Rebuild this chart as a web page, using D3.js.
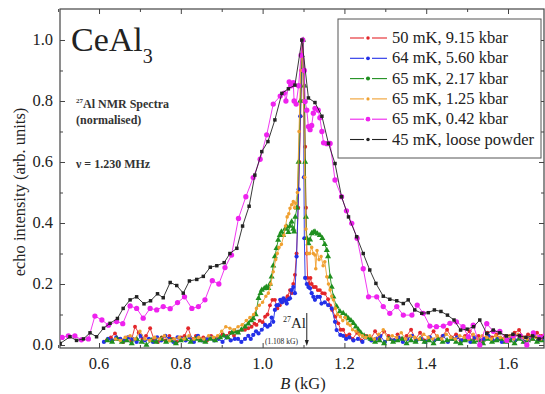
<!DOCTYPE html>
<html><head><meta charset="utf-8">
<script src="https://cdn.jsdelivr.net/npm/d3@7"></script>
<style>body{margin:0;background:#fff}svg{display:block}</style>
</head><body><svg id="c" width="545" height="394"></svg>
<script>
const xTicks = [0.6, 0.8, 1.0, 1.2, 1.4, 1.6];
const xMinor = [0.5, 0.7, 0.9, 1.1, 1.3, 1.5, 1.7];
const yTicks = [0.0, 0.2, 0.4, 0.6, 0.8, 1.0];
const yMinor = [0.1, 0.3, 0.5, 0.7, 0.9];
const legendLabels = ["50 mK, 9.15 kbar","64 mK, 5.60 kbar","65 mK, 2.17 kbar","65 mK, 1.25 kbar","65 mK, 0.42 kbar","45 mK, loose powder"];

const red50 = [[0.619,0.016],[0.629,0.025],[0.639,0.038],[0.649,0.02],[0.659,0.01],[0.669,0.025],[0.679,0.015],[0.688,0.06],[0.697,0.04],[0.706,0.02],[0.715,0.03],[0.725,0.055],[0.734,0.02],[0.744,0.01],[0.753,0.025],[0.762,0.015],[0.772,0.03],[0.781,0.02],[0.79,0.01],[0.8,0.025],[0.809,0.03],[0.818,0.055],[0.827,0.02],[0.837,0.03],[0.846,0.02],[0.855,0.025],[0.864,0.015],[0.874,0.03],[0.883,0.02],[0.892,0.025],[0.902,0.035],[0.911,0.03],[0.92,0.04],[0.93,0.03],[0.94,0.044],[0.949,0.05],[0.957,0.05],[0.965,0.055],[0.973,0.06],[0.98,0.07],[0.985,0.066],[0.993,0.08],[1.0,0.075],[1.006,0.093],[1.012,0.1],[1.018,0.13],[1.024,0.148],[1.03,0.148],[1.036,0.12],[1.042,0.13],[1.048,0.14],[1.055,0.15],[1.061,0.16],[1.067,0.18],[1.071,0.17],[1.075,0.2],[1.079,0.23],[1.083,0.3],[1.087,0.45],[1.09,0.6],[1.093,0.75],[1.096,0.9],[1.099,1.0],[1.102,0.85],[1.104,0.65],[1.106,0.45],[1.108,0.3],[1.11,0.22],[1.113,0.2],[1.117,0.22],[1.12,0.2],[1.125,0.19],[1.13,0.19],[1.135,0.18],[1.14,0.18],[1.146,0.17],[1.152,0.169],[1.16,0.15],[1.165,0.13],[1.17,0.115],[1.178,0.093],[1.185,0.071],[1.191,0.05],[1.197,0.05],[1.204,0.03],[1.212,0.035],[1.22,0.02],[1.231,0.04],[1.242,0.015],[1.253,0.03],[1.264,0.02],[1.275,0.045],[1.286,0.02],[1.297,0.044],[1.308,0.03],[1.319,0.015],[1.33,0.035],[1.341,0.02],[1.352,0.03],[1.363,0.05],[1.374,0.02],[1.385,0.04],[1.396,0.015],[1.407,0.025],[1.418,0.045],[1.429,0.02],[1.44,0.03],[1.451,0.05],[1.462,0.025],[1.473,0.035],[1.484,0.015],[1.495,0.03],[1.506,0.045],[1.517,0.02],[1.528,0.03],[1.539,0.015],[1.55,0.04],[1.561,0.025],[1.572,0.035],[1.583,0.02],[1.594,0.03],[1.605,0.015],[1.616,0.04],[1.627,0.049],[1.638,0.025],[1.649,0.035],[1.66,0.02],[1.671,0.04],[1.682,0.03]];

const blue64 = [[0.612,0.01],[0.622,0.02],[0.632,0.015],[0.642,0.025],[0.652,0.02],[0.662,0.015],[0.672,0.025],[0.682,0.02],[0.692,0.01],[0.702,0.03],[0.712,0.015],[0.722,0.02],[0.732,0.01],[0.742,0.025],[0.752,0.015],[0.762,0.03],[0.772,0.02],[0.782,0.01],[0.792,0.025],[0.802,0.02],[0.812,0.015],[0.822,0.025],[0.832,0.01],[0.842,0.03],[0.852,0.015],[0.862,0.02],[0.872,0.025],[0.882,0.015],[0.892,0.02],[0.902,0.01],[0.912,0.025],[0.922,0.015],[0.932,0.02],[0.94,0.02],[0.948,0.01],[0.957,0.02],[0.965,0.03],[0.971,0.02],[0.977,0.033],[0.984,0.045],[0.99,0.038],[0.998,0.05],[1.006,0.066],[1.012,0.06],[1.018,0.066],[1.022,0.09],[1.026,0.076],[1.03,0.115],[1.034,0.13],[1.038,0.131],[1.043,0.148],[1.047,0.14],[1.051,0.153],[1.055,0.145],[1.059,0.136],[1.063,0.15],[1.067,0.153],[1.071,0.18],[1.075,0.19],[1.079,0.17],[1.083,0.29],[1.088,0.51],[1.092,0.75],[1.096,0.95],[1.098,1.0],[1.1,0.8],[1.101,0.55],[1.102,0.35],[1.104,0.22],[1.108,0.2],[1.112,0.19],[1.116,0.186],[1.12,0.17],[1.124,0.158],[1.128,0.148],[1.134,0.158],[1.14,0.158],[1.144,0.136],[1.152,0.14],[1.16,0.131],[1.169,0.12],[1.177,0.076],[1.181,0.049],[1.19,0.033],[1.197,0.03],[1.204,0.02],[1.212,0.025],[1.222,0.015],[1.233,0.02],[1.244,0.01],[1.255,0.025],[1.266,0.015],[1.277,0.02],[1.288,0.03],[1.299,0.01],[1.31,0.02],[1.321,0.015],[1.332,0.025],[1.343,0.01],[1.354,0.02],[1.365,0.03],[1.376,0.015],[1.387,0.02],[1.398,0.01],[1.409,0.025],[1.42,0.015],[1.431,0.02],[1.442,0.03],[1.453,0.01],[1.464,0.02],[1.475,0.025],[1.486,0.015],[1.497,0.02],[1.508,0.01],[1.519,0.025],[1.53,0.015],[1.541,0.02],[1.552,0.03],[1.563,0.015],[1.574,0.02],[1.585,0.01],[1.596,0.025],[1.607,0.02],[1.618,0.015],[1.629,0.025],[1.64,0.01],[1.651,0.02],[1.662,0.03],[1.673,0.015],[1.684,0.02]];

const green65a = [[0.62,0.015],[0.632,0.01],[0.644,0.02],[0.656,0.01],[0.668,0.015],[0.68,0.005],[0.692,0.02],[0.704,0.01],[0.716,0.0],[0.728,0.015],[0.74,0.01],[0.752,0.02],[0.764,0.01],[0.776,0.015],[0.788,0.005],[0.8,0.015],[0.812,0.02],[0.824,0.01],[0.836,0.02],[0.848,0.015],[0.86,0.01],[0.872,0.02],[0.884,0.015],[0.896,0.025],[0.905,0.03],[0.915,0.025],[0.925,0.04],[0.933,0.044],[0.94,0.04],[0.948,0.05],[0.957,0.06],[0.965,0.07],[0.972,0.08],[0.977,0.087],[0.983,0.1],[0.99,0.153],[0.995,0.17],[0.998,0.18],[1.004,0.185],[1.009,0.19],[1.014,0.186],[1.018,0.2],[1.022,0.224],[1.026,0.26],[1.03,0.29],[1.034,0.317],[1.038,0.344],[1.042,0.36],[1.046,0.371],[1.05,0.36],[1.055,0.38],[1.059,0.388],[1.063,0.37],[1.067,0.39],[1.071,0.404],[1.075,0.38],[1.077,0.371],[1.08,0.42],[1.084,0.45],[1.088,0.6],[1.092,0.8],[1.096,0.95],[1.099,1.0],[1.102,0.85],[1.104,0.6],[1.106,0.42],[1.108,0.35],[1.112,0.333],[1.116,0.345],[1.12,0.366],[1.124,0.37],[1.128,0.371],[1.134,0.365],[1.14,0.36],[1.146,0.35],[1.152,0.33],[1.157,0.311],[1.16,0.29],[1.165,0.224],[1.169,0.19],[1.173,0.158],[1.181,0.126],[1.189,0.11],[1.197,0.104],[1.204,0.095],[1.21,0.087],[1.216,0.08],[1.222,0.071],[1.228,0.06],[1.234,0.05],[1.24,0.04],[1.248,0.03],[1.256,0.025],[1.264,0.02],[1.275,0.01],[1.286,0.015],[1.297,0.005],[1.308,0.02],[1.319,0.01],[1.33,0.015],[1.341,0.02],[1.352,0.005],[1.363,0.015],[1.374,0.01],[1.385,0.02],[1.396,0.01],[1.407,0.015],[1.418,0.005],[1.429,0.02],[1.44,0.01],[1.451,0.015],[1.462,0.02],[1.473,0.01],[1.484,0.005],[1.495,0.015],[1.506,0.02],[1.517,0.01],[1.528,0.015],[1.539,0.005],[1.55,0.02],[1.561,0.01],[1.572,0.015],[1.583,0.02],[1.594,0.01],[1.605,0.015],[1.616,0.005],[1.627,0.02],[1.638,0.01],[1.649,0.015],[1.66,0.02],[1.671,0.01],[1.682,0.015]];

const orange65b = [[0.64,0.02],[0.652,0.015],[0.664,0.025],[0.676,0.03],[0.688,0.02],[0.7,0.045],[0.712,0.02],[0.724,0.015],[0.736,0.025],[0.748,0.02],[0.76,0.03],[0.772,0.015],[0.784,0.02],[0.796,0.025],[0.808,0.02],[0.82,0.03],[0.832,0.02],[0.844,0.025],[0.856,0.02],[0.868,0.03],[0.88,0.025],[0.89,0.03],[0.9,0.045],[0.91,0.06],[0.92,0.055],[0.93,0.05],[0.94,0.06],[0.95,0.066],[0.96,0.08],[0.969,0.09],[0.978,0.1],[0.985,0.12],[0.992,0.13],[1.0,0.14],[1.008,0.16],[1.014,0.17],[1.02,0.2],[1.026,0.24],[1.032,0.28],[1.036,0.3],[1.04,0.32],[1.046,0.33],[1.052,0.36],[1.056,0.39],[1.06,0.42],[1.064,0.43],[1.067,0.448],[1.071,0.46],[1.075,0.47],[1.078,0.45],[1.081,0.465],[1.085,0.5],[1.089,0.7],[1.093,0.9],[1.097,1.0],[1.1,0.8],[1.103,0.55],[1.106,0.38],[1.109,0.3],[1.112,0.3],[1.115,0.3],[1.12,0.32],[1.124,0.3],[1.128,0.295],[1.13,0.25],[1.133,0.31],[1.138,0.28],[1.143,0.29],[1.148,0.26],[1.152,0.273],[1.157,0.224],[1.161,0.2],[1.165,0.18],[1.169,0.16],[1.173,0.148],[1.178,0.12],[1.183,0.1],[1.19,0.093],[1.196,0.08],[1.202,0.09],[1.208,0.07],[1.214,0.065],[1.22,0.05],[1.228,0.045],[1.236,0.035],[1.244,0.03],[1.252,0.025],[1.262,0.03],[1.273,0.02],[1.284,0.035],[1.295,0.05],[1.306,0.02],[1.317,0.03],[1.328,0.025],[1.339,0.04],[1.35,0.02],[1.361,0.03],[1.372,0.025],[1.383,0.02],[1.394,0.035],[1.405,0.025],[1.416,0.02],[1.427,0.03],[1.438,0.02],[1.449,0.035],[1.46,0.025],[1.471,0.02],[1.482,0.03],[1.493,0.025],[1.504,0.02],[1.515,0.035],[1.526,0.02],[1.537,0.03],[1.548,0.025],[1.559,0.02],[1.57,0.03],[1.581,0.025],[1.592,0.02],[1.603,0.03],[1.614,0.02],[1.625,0.035],[1.636,0.025],[1.647,0.02],[1.658,0.03],[1.669,0.025],[1.68,0.02]];

const magenta65c = [[0.51,0.025],[0.525,0.03],[0.541,0.03],[0.557,0.017],[0.574,0.02],[0.59,0.095],[0.607,0.082],[0.623,0.065],[0.643,0.077],[0.658,0.07],[0.676,0.128],[0.692,0.12],[0.708,0.088],[0.725,0.12],[0.741,0.115],[0.757,0.126],[0.774,0.119],[0.792,0.139],[0.809,0.158],[0.827,0.12],[0.843,0.126],[0.859,0.148],[0.877,0.211],[0.893,0.2],[0.908,0.254],[0.924,0.295],[0.941,0.415],[0.959,0.486],[0.977,0.549],[0.994,0.609],[1.01,0.689],[1.026,0.79],[1.043,0.816],[1.053,0.826],[1.057,0.8],[1.065,0.863],[1.07,0.85],[1.075,0.86],[1.077,0.8],[1.082,0.79],[1.088,0.85],[1.094,0.95],[1.098,1.0],[1.102,0.9],[1.104,0.798],[1.108,0.77],[1.112,0.716],[1.116,0.706],[1.12,0.72],[1.124,0.76],[1.128,0.776],[1.136,0.77],[1.14,0.745],[1.145,0.7],[1.149,0.663],[1.157,0.66],[1.165,0.661],[1.177,0.541],[1.193,0.486],[1.205,0.44],[1.218,0.399],[1.231,0.35],[1.246,0.25],[1.259,0.158],[1.279,0.158],[1.295,0.126],[1.311,0.104],[1.328,0.126],[1.344,0.098],[1.365,0.098],[1.378,0.131],[1.393,0.104],[1.409,0.062],[1.425,0.06],[1.442,0.062],[1.458,0.071],[1.474,0.076],[1.49,0.06],[1.503,0.027],[1.515,0.065],[1.531,0.0],[1.548,0.07],[1.564,0.045],[1.58,0.045],[1.597,0.015],[1.613,0.03],[1.63,0.03],[1.646,0.0],[1.662,0.04],[1.678,0.025],[1.69,0.03]];

const black45 = [[0.505,0.005],[0.529,0.027],[0.545,0.015],[0.562,0.02],[0.578,0.04],[0.594,0.027],[0.611,0.055],[0.627,0.071],[0.645,0.087],[0.659,0.12],[0.676,0.148],[0.692,0.158],[0.71,0.135],[0.726,0.145],[0.743,0.168],[0.757,0.155],[0.774,0.205],[0.79,0.195],[0.806,0.17],[0.821,0.21],[0.839,0.215],[0.855,0.225],[0.872,0.255],[0.888,0.26],[0.906,0.27],[0.92,0.3],[0.937,0.317],[0.951,0.39],[0.967,0.455],[0.981,0.557],[0.998,0.634],[1.013,0.667],[1.03,0.738],[1.047,0.825],[1.063,0.84],[1.079,0.852],[1.096,1.0],[1.112,0.81],[1.128,0.795],[1.145,0.75],[1.161,0.661],[1.177,0.595],[1.193,0.486],[1.21,0.42],[1.23,0.355],[1.246,0.3],[1.262,0.246],[1.277,0.202],[1.295,0.16],[1.311,0.15],[1.328,0.145],[1.344,0.136],[1.356,0.148],[1.372,0.115],[1.389,0.104],[1.405,0.106],[1.42,0.115],[1.436,0.11],[1.452,0.098],[1.468,0.082],[1.484,0.049],[1.5,0.052],[1.516,0.06],[1.531,0.082],[1.548,0.038],[1.564,0.049],[1.58,0.04],[1.596,0.03],[1.612,0.035],[1.628,0.03],[1.644,0.025],[1.66,0.03],[1.676,0.02],[1.69,0.025]];

const seriesData = [red50, blue64, green65a, orange65b, magenta65c, black45];
const colors = ["#e3262a","#2330e8","#1f8f1f","#f0a030","#ee22ee","#222222"];
const symbols = ["circle","circle","triangle","circle","circle","square"];
const symSizes = [12, 14, 16, 10, 22, 12];

const FONT = "Liberation Serif";
const m = {left:60, right:544, top:9, bottom:348};
const x = d3.scaleLinear().domain([0.5046, 1.688]).range([m.left, m.right]);
const y = d3.scaleLinear().domain([-0.0098, 1.1016]).range([m.bottom, m.top]);
const svg = d3.select("#c");
const txtCol = "#222";
function txt(sel, size){ return sel.append("text").attr("font-family",FONT).attr("font-size",size).attr("fill",txtCol); }

svg.append("defs").append("clipPath").attr("id","clip")
  .append("rect").attr("x",m.left).attr("y",m.top).attr("width",m.right-m.left).attr("height",m.bottom-m.top);

const axCol = "#444";
function styleAxis(g){ g.select(".domain").remove(); g.selectAll("line").attr("stroke",axCol); g.selectAll("text").remove(); }
svg.append("g").attr("transform",`translate(0,${m.bottom})`).call(d3.axisBottom(x).tickValues(xTicks).tickSize(-5)).call(styleAxis);
svg.append("g").attr("transform",`translate(0,${m.bottom})`).call(d3.axisBottom(x).tickValues(xMinor).tickSize(-3)).call(styleAxis);
svg.append("g").attr("transform",`translate(0,${m.top})`).call(d3.axisTop(x).tickValues(xTicks).tickSize(-5)).call(styleAxis);
svg.append("g").attr("transform",`translate(0,${m.top})`).call(d3.axisTop(x).tickValues(xMinor).tickSize(-3)).call(styleAxis);
svg.append("g").attr("transform",`translate(${m.left},0)`).call(d3.axisLeft(y).tickValues(yTicks).tickSize(-5)).call(styleAxis);
svg.append("g").attr("transform",`translate(${m.left},0)`).call(d3.axisLeft(y).tickValues(yMinor).tickSize(-3)).call(styleAxis);
svg.append("g").attr("transform",`translate(${m.right},0)`).call(d3.axisRight(y).tickValues(yTicks).tickSize(-5)).call(styleAxis);
svg.append("g").attr("transform",`translate(${m.right},0)`).call(d3.axisRight(y).tickValues(yMinor).tickSize(-3)).call(styleAxis);
svg.append("rect").attr("x",m.left).attr("y",m.top).attr("width",m.right-m.left).attr("height",m.bottom-m.top)
  .attr("fill","none").attr("stroke",axCol).attr("stroke-width",1.2);

const xtl = svg.append("g");
xTicks.forEach(d=>{ txt(xtl,16.5).attr("x",x(d)).attr("y",m.bottom+21).attr("text-anchor","middle").text(d.toFixed(1)); });
const ytl = svg.append("g");
yTicks.forEach(d=>{ txt(ytl,16.5).attr("x",m.left-7).attr("y",y(d)+5).attr("text-anchor","end").text(d.toFixed(1)); });

const xl = txt(svg,16.5).attr("x",303).attr("y",389).attr("text-anchor","middle");
xl.append("tspan").attr("font-style","italic").text("B");
xl.append("tspan").text(" (kG)");
txt(svg,16.5).attr("transform","translate(25,192) rotate(-90)").attr("text-anchor","middle").text("echo intensity (arb. units)");

const plot = svg.append("g").attr("clip-path","url(#clip)");
const line = d3.line().x(d=>x(d[0])).y(d=>y(d[1]));
function symOf(i){ return symbols[i]==="triangle"?d3.symbolTriangle:symbols[i]==="square"?d3.symbolSquare:d3.symbolCircle; }
seriesData.forEach((data,i)=>{
  const g = plot.append("g");
  g.append("path").datum(data).attr("d",line).attr("fill","none").attr("stroke",colors[i]).attr("stroke-width",0.9);
  g.selectAll("path.pt").data(data).join("path").attr("class","pt")
    .attr("transform",d=>`translate(${x(d[0])},${y(d[1])})`)
    .attr("d",d3.symbol().type(symOf(i)).size(symSizes[i])).attr("fill",colors[i]);
});

const t1 = txt(svg,34).attr("x",71).attr("y",51);
t1.append("tspan").text("CeAl");
t1.append("tspan").attr("font-size",20).attr("dy",12).text("3");
const t2 = txt(svg,12).attr("x",76).attr("y",108).attr("font-weight","bold").attr("fill","#333");
t2.append("tspan").attr("font-size",7).attr("dy",-5).text("27");
t2.append("tspan").attr("dy",5).text("Al NMR Spectra");
txt(svg,12).attr("x",76).attr("y",124).attr("font-weight","bold").attr("fill","#333").text("(normalised)");
txt(svg,12).attr("x",76).attr("y",168).attr("font-weight","bold").attr("fill","#333").text("\u03BD = 1.230 MHz");

const t3 = txt(svg,15).attr("x",283).attr("y",328);
t3.append("tspan").attr("font-size",8).attr("dy",-6).text("27");
t3.append("tspan").attr("dy",6).text("Al");
txt(svg,7.5).attr("x",265).attr("y",344).text("(1.108 kG)");
svg.append("line").attr("x1",x(1.108)).attr("x2",x(1.108)).attr("y1",313).attr("y2",343).attr("stroke","#222").attr("stroke-width",1);
svg.append("path").attr("d",`M${x(1.108)-2},340 L${x(1.108)+2},340 L${x(1.108)},346 Z`).attr("fill","#222");

const lg = svg.append("g");
lg.append("rect").attr("x",338).attr("y",19).attr("width",203).attr("height",139).attr("fill","#fff").attr("stroke","#555").attr("stroke-width",1);
legendLabels.forEach((lab,i)=>{
  const yy = 38 + i*20.3;
  lg.append("line").attr("x1",350).attr("x2",364).attr("y1",yy).attr("y2",yy).attr("stroke",colors[i]).attr("stroke-width",1.1);
  lg.append("line").attr("x1",372).attr("x2",387).attr("y1",yy).attr("y2",yy).attr("stroke",colors[i]).attr("stroke-width",1.1);
  lg.append("path").attr("transform",`translate(368,${yy})`).attr("d",d3.symbol().type(d3.symbolCircle).size(symSizes[i]*0.8)).attr("fill",colors[i]);
  txt(lg,16.5).attr("x",392).attr("y",yy+5).text(lab);
});
</script></body></html>
